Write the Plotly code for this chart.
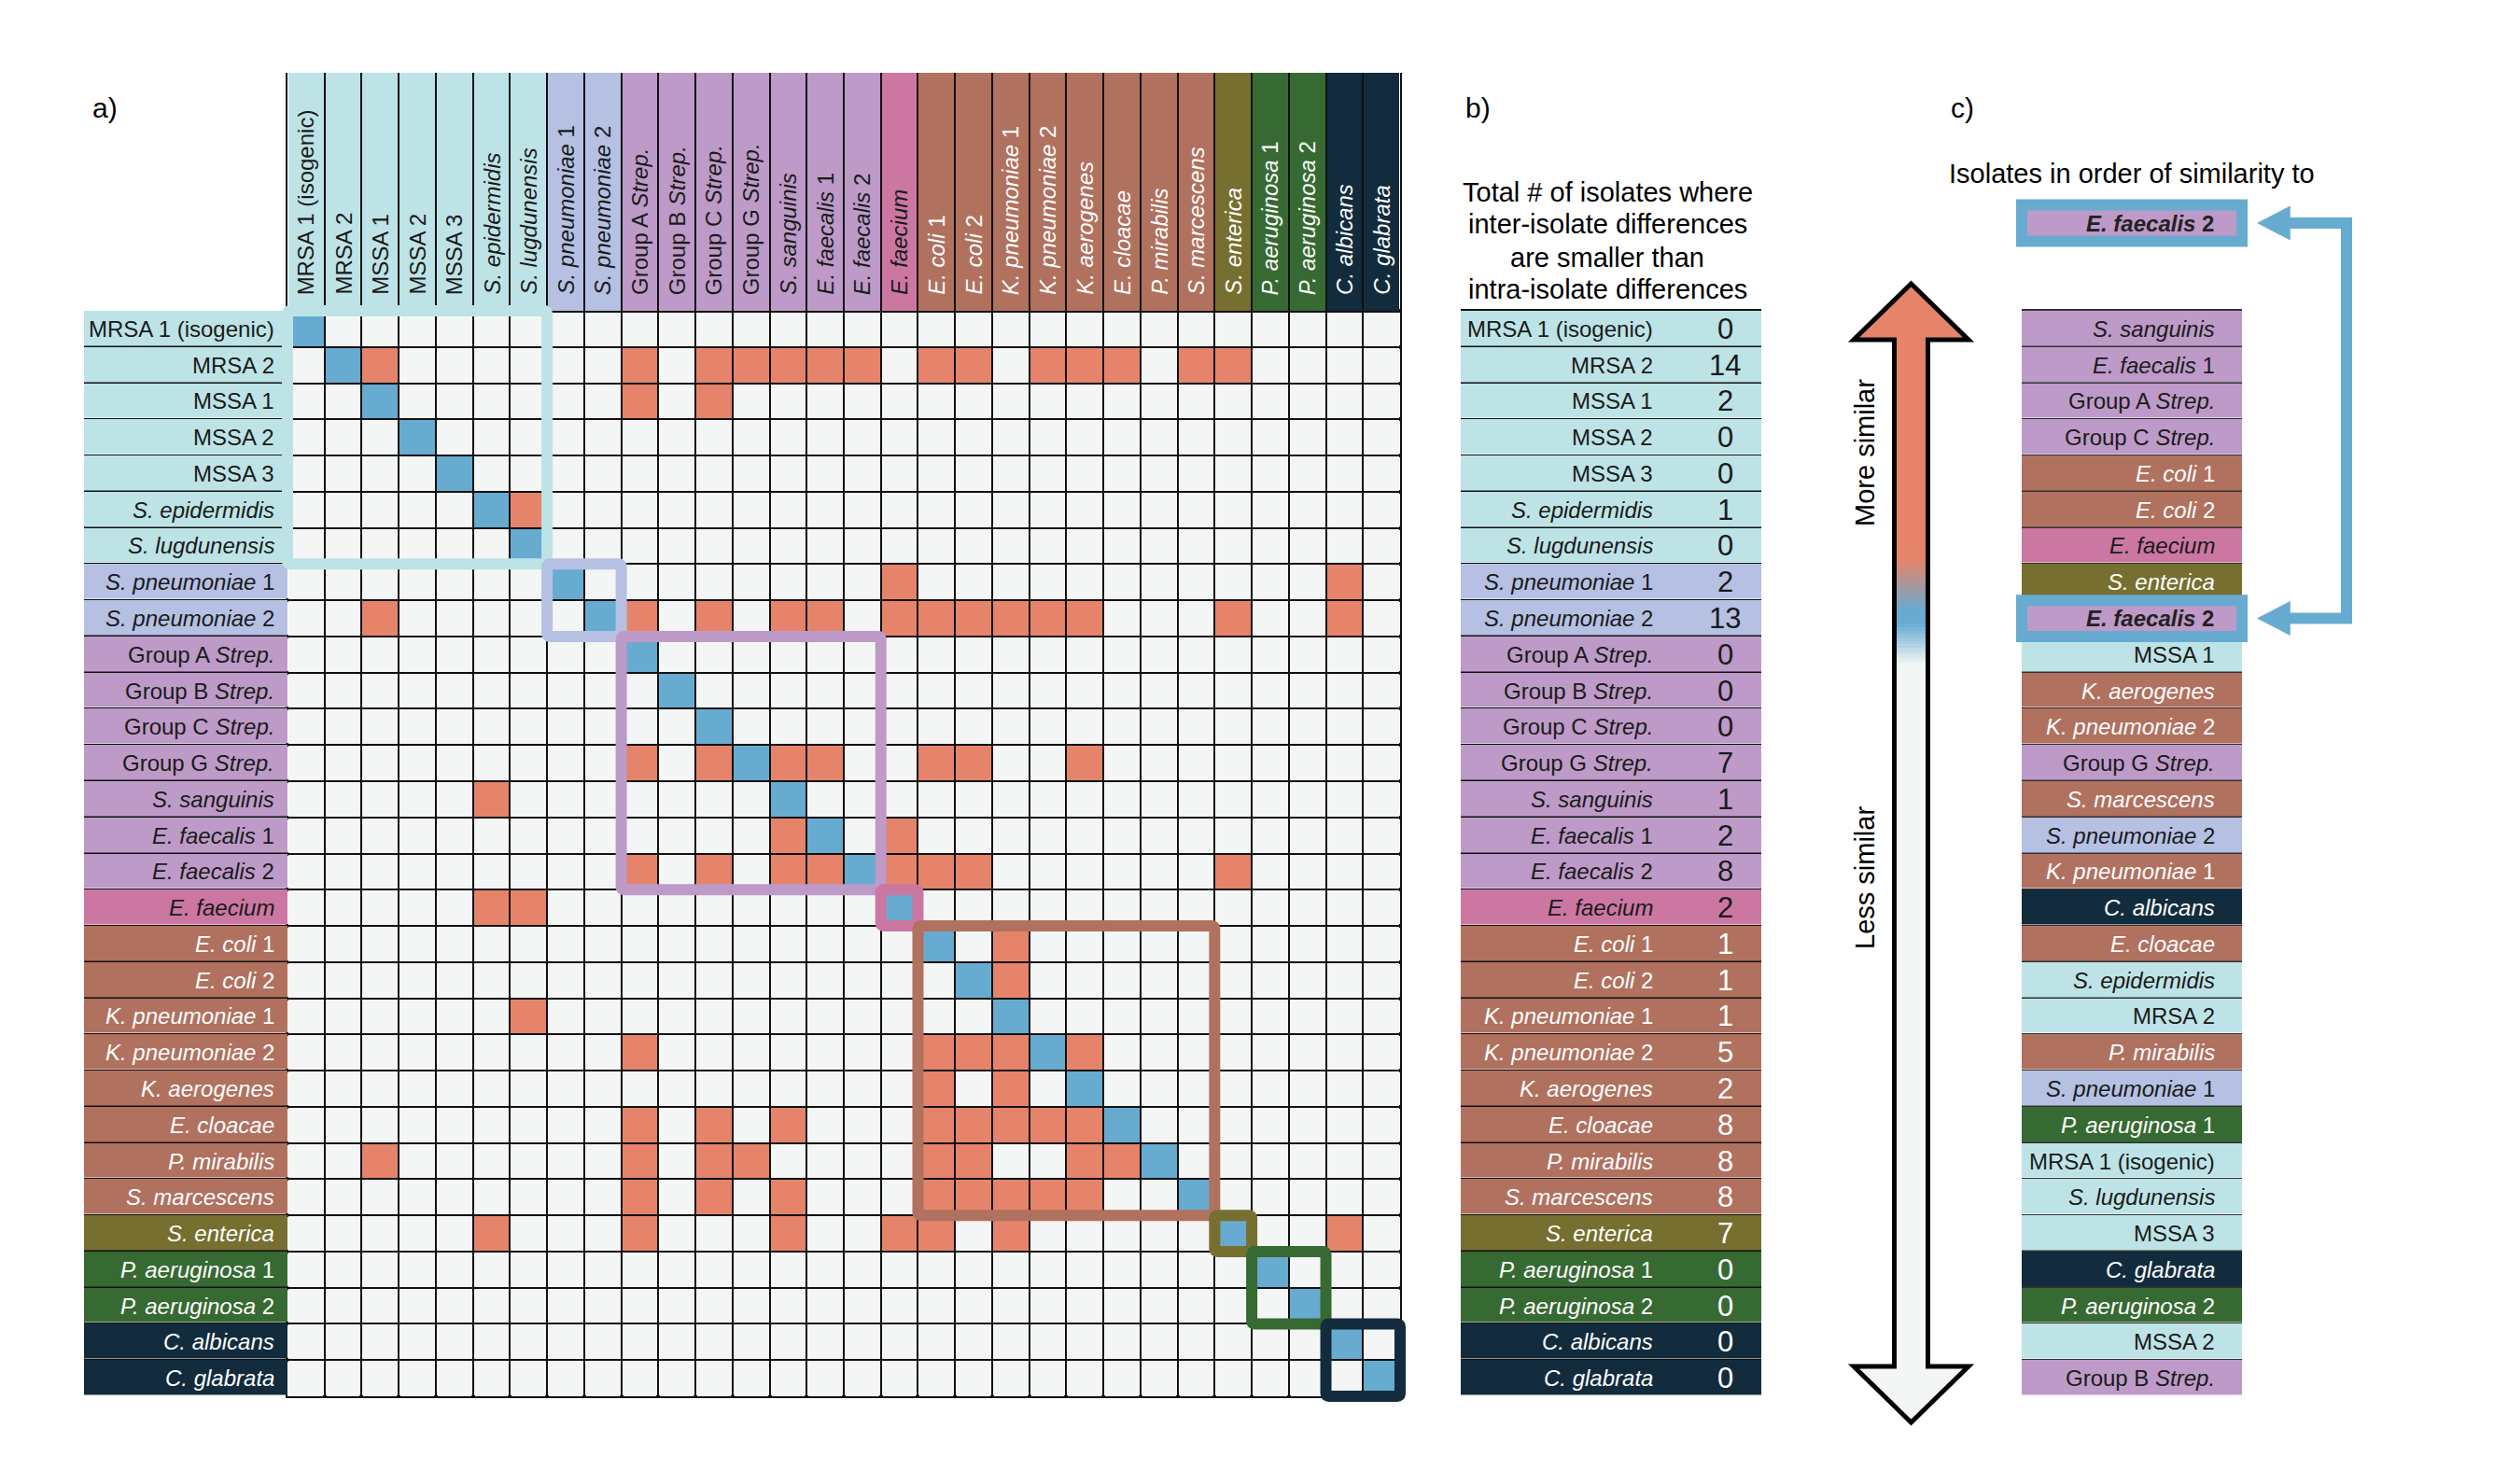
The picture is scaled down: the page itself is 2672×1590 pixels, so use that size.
import numpy as np
import plotly.graph_objects as go

W, H = 2672, 1590

# ---------------- data ----------------
isolates = [
    "MRSA 1 (isogenic)", "MRSA 2", "MSSA 1", "MSSA 2", "MSSA 3",
    "S. epidermidis", "S. lugdunensis", "S. pneumoniae 1", "S. pneumoniae 2",
    "Group A Strep.", "Group B Strep.", "Group C Strep.", "Group G Strep.",
    "S. sanguinis", "E. faecalis 1", "E. faecalis 2", "E. faecium",
    "E. coli 1", "E. coli 2", "K. pneumoniae 1", "K. pneumoniae 2",
    "K. aerogenes", "E. cloacae", "P. mirabilis", "S. marcescens",
    "S. enterica", "P. aeruginosa 1", "P. aeruginosa 2",
    "C. albicans", "C. glabrata",
]
isolate_labels = [
    "MRSA 1 (isogenic)", "MRSA 2", "MSSA 1", "MSSA 2", "MSSA 3",
    "<i>S. epidermidis</i>", "<i>S. lugdunensis</i>",
    "<i>S. pneumoniae</i> 1", "<i>S. pneumoniae</i> 2",
    "Group A <i>Strep.</i>", "Group B <i>Strep.</i>",
    "Group C <i>Strep.</i>", "Group G <i>Strep.</i>",
    "<i>S. sanguinis</i>", "<i>E. faecalis</i> 1", "<i>E. faecalis</i> 2",
    "<i>E. faecium</i>", "<i>E. coli</i> 1", "<i>E. coli</i> 2",
    "<i>K. pneumoniae</i> 1", "<i>K. pneumoniae</i> 2", "<i>K. aerogenes</i>",
    "<i>E. cloacae</i>", "<i>P. mirabilis</i>", "<i>S. marcescens</i>",
    "<i>S. enterica</i>", "<i>P. aeruginosa</i> 1", "<i>P. aeruginosa</i> 2",
    "<i>C. albicans</i>", "<i>C. glabrata</i>",
]
isolate_group = [0, 0, 0, 0, 0, 0, 0, 1, 1, 2, 2, 2, 2, 2, 2, 2, 3,
                 4, 4, 4, 4, 4, 4, 4, 4, 5, 6, 6, 7, 7]
group_colors = ["#BDE3E6", "#B5C0E3", "#BD9AC7", "#CB77A2",
                "#B1715F", "#766F2F", "#376A33", "#122C3D"]
group_text_colors = ["#1a1a1a", "#1a1a1a", "#1a1a1a", "#1a1a1a",
                     "#ffffff", "#ffffff", "#ffffff", "#ffffff"]

# columns (other isolates) whose inter-isolate difference is smaller than the row's intra-isolate difference
closer_than_self = [
    [],
    [2, 9, 11, 12, 13, 14, 15, 17, 18, 20, 21, 22, 24, 25],
    [9, 11],
    [],
    [],
    [6],
    [],
    [16, 28],
    [2, 9, 11, 13, 14, 16, 17, 18, 19, 20, 21, 25, 28],
    [],
    [],
    [],
    [9, 11, 13, 14, 17, 18, 21],
    [5],
    [13, 16],
    [9, 11, 13, 14, 16, 17, 18, 25],
    [5, 6],
    [19],
    [19],
    [6],
    [9, 17, 18, 19, 21],
    [17, 19],
    [9, 11, 13, 17, 18, 19, 20, 21],
    [2, 9, 11, 12, 17, 18, 21, 22],
    [9, 11, 13, 17, 18, 19, 20, 21],
    [5, 9, 13, 16, 17, 19, 28],
    [],
    [],
    [],
    [],
]
total_counts = [0, 14, 2, 0, 0, 1, 0, 2, 13, 0, 0, 0, 7, 1, 2, 8, 2,
                1, 1, 1, 5, 2, 8, 8, 8, 7, 0, 0, 0, 0]

similarity_order = [
    "S. sanguinis", "E. faecalis 1", "Group A Strep.", "Group C Strep.",
    "E. coli 1", "E. coli 2", "E. faecium", "S. enterica", "E. faecalis 2",
    "MSSA 1", "K. aerogenes", "K. pneumoniae 2", "Group G Strep.",
    "S. marcescens", "S. pneumoniae 2", "K. pneumoniae 1", "C. albicans",
    "E. cloacae", "S. epidermidis", "MRSA 2", "P. mirabilis",
    "S. pneumoniae 1", "P. aeruginosa 1", "MRSA 1 (isogenic)",
    "S. lugdunensis", "MSSA 3", "C. glabrata", "P. aeruginosa 2",
    "MSSA 2", "Group B Strep.",
]
reference_isolate = "E. faecalis 2"

# ---------------- styling / geometry ----------------
EMPTY = "#F4F6F5"
ORANGE = "#E5846A"
BLUE = "#67ABD1"
GRID = "#111111"
DARK = "#1a1a1a"
FONT = "Liberation Sans, Arial, Helvetica, sans-serif"

n = len(isolates)
MX0, MX1, MY0, MY1 = 308, 1500, 333, 1496   # matrix area (px)
LX0 = 90                                      # row label column left
HY0 = 78                                      # header top
BX0, BX1 = 1565, 1887                         # panel b table
CX0, CX1 = 2166, 2402                         # panel c list
C7X0, C7X1 = 2140, 2545                       # panel c overlay
AX0, AX1, AY0, AY1 = 1986, 2109, 304, 1524    # similarity arrow
cw = (MX1 - MX0) / n
ch = (MY1 - MY0) / n
PAD = 12


def xdom(a, b):
    return [a / W, b / W]


def ydom(top, bottom):
    return [1 - bottom / H, 1 - top / H]


def axis(domain, rng, **kw):
    d = dict(domain=domain, range=rng, showgrid=False, zeroline=False,
             showticklabels=False, ticks="", showline=False, fixedrange=True)
    d.update(kw)
    return d


k = len(group_colors)
group_scale = []
for i, c in enumerate(group_colors):
    group_scale += [[i / k, c], [(i + 1) / k, c]]
gz = dict(zmin=-0.5, zmax=k - 0.5, colorscale=group_scale, showscale=False, hoverinfo="skip")

# ---------------- traces ----------------
traces = []
z = [[2 if i == j else (1 if j in closer_than_self[i] else 0) for j in range(n)] for i in range(n)]
traces.append(go.Heatmap(
    z=z, x=list(range(n)), y=list(range(n)), zmin=-0.5, zmax=2.5,
    colorscale=[[0, EMPTY], [1 / 3, EMPTY], [1 / 3, ORANGE], [2 / 3, ORANGE], [2 / 3, BLUE], [1, BLUE]],
    showscale=False, xgap=2, ygap=2, hoverinfo="skip", xaxis="x", yaxis="y"))
traces.append(go.Heatmap(z=[[g] for g in isolate_group], x=[0], y=list(range(n)), ygap=1.5,
                         xaxis="x2", yaxis="y2", **gz))
traces.append(go.Heatmap(z=[isolate_group], x=list(range(n)), y=[0], xgap=2,
                         xaxis="x3", yaxis="y3", **gz))
traces.append(go.Heatmap(z=[[g] for g in isolate_group], x=[0, 1], y=list(range(n)), ygap=1.5,
                         xaxis="x4", yaxis="y4", **gz))
c_groups = [isolate_group[isolates.index(s)] for s in similarity_order]
traces.append(go.Heatmap(z=[[g] for g in c_groups], x=[0, 1], y=list(range(n)), ygap=1.5,
                         xaxis="x5", yaxis="y5", **gz))

# similarity arrow shaft (decorative gradient)
hh = 60 / (AY1 - AY0)
sw = 18 / ((AX1 - AX0) / 2)
edges = np.linspace(hh, 1 - hh, 301)
centers = (edges[:-1] + edges[1:]) / 2
arrow_scale = [[0, EMPTY], [0.6656, EMPTY], [0.7016, BLUE], [0.7123, BLUE], [0.7574, ORANGE], [1, ORANGE]]
traces.append(go.Heatmap(z=[[c] for c in centers], x=[-sw, sw], y=edges, zmin=0, zmax=1,
                         colorscale=arrow_scale, showscale=False, hoverinfo="skip",
                         xaxis="x6", yaxis="y6"))
for xa, ya in (("x7", "y7"), ("x8", "y8")):
    traces.append(go.Scatter(x=[None], y=[None], mode="markers", hoverinfo="skip",
                             showlegend=False, xaxis=xa, yaxis=ya))

fig = go.Figure(data=traces)

bounds = [b + 0.5 for b in range(n - 1)]
grid_m = dict(showgrid=True, gridcolor=GRID, gridwidth=4, tickmode="array", tickvals=bounds)
line_m = dict(showline=True, linecolor=GRID, linewidth=2, mirror=True)
hdr_h = MY0 - HY0
ax6_px = (AX1 - AX0) / 2
ay6_px = AY1 - AY0
lw = CX1 - CX0

fig.update_layout(
    width=W, height=H, margin=dict(l=0, r=0, t=0, b=0),
    paper_bgcolor="white", plot_bgcolor="rgba(0,0,0,0)", showlegend=False,
    xaxis=axis(xdom(MX0, MX1), [-0.5, n - 0.5], anchor="y", **grid_m, **line_m),
    yaxis=axis(ydom(MY0, MY1), [n - 0.5, -0.5], anchor="x", **grid_m, **line_m),
    xaxis2=axis(xdom(LX0, MX0), [-0.5, 0.5], anchor="y2"),
    yaxis2=axis(ydom(MY0, MY1), [n - 0.5, -0.5], anchor="x2", showgrid=True, gridcolor=GRID,
                gridwidth=3, tickmode="array", tickvals=bounds),
    xaxis3=axis(xdom(MX0, MX1), [-0.5, n - 0.5], anchor="y3", **grid_m,
                showline=True, linecolor=GRID, linewidth=2),
    yaxis3=axis(ydom(HY0, MY0), [-0.5, 0.5], anchor="x3", showline=True, mirror=True,
                linecolor=GRID, linewidth=2),
    xaxis4=axis(xdom(BX0, BX1), [0, 1], anchor="y4", side="top", showline=True,
                linecolor=GRID, linewidth=2),
    yaxis4=axis(ydom(MY0, MY1), [n - 0.5, -0.5], anchor="x4", showgrid=True, gridcolor=GRID,
                gridwidth=3, tickmode="array", tickvals=bounds),
    xaxis5=axis(xdom(CX0, CX1), [0, 1], anchor="y5", side="top", showline=True,
                linecolor="#333333", linewidth=2),
    yaxis5=axis(ydom(MY0, MY1), [n - 0.5, -0.5], anchor="x5", showgrid=True, gridcolor="#333333",
                gridwidth=3, tickmode="array", tickvals=bounds),
    xaxis6=axis(xdom(AX0 - 10, AX1 + 10), [-1 - 10 / ax6_px, 1 + 10 / ax6_px], anchor="y6"),
    yaxis6=axis(ydom(AY0 - 10, AY1 + 10), [-10 / ay6_px, 1 + 10 / ay6_px], anchor="x6"),
    xaxis7=axis(xdom(C7X0, C7X1), [(C7X0 - CX0) / lw, (C7X1 - CX0) / lw], anchor="y7"),
    yaxis7=axis(ydom(MY0 - 4 * ch, MY1), [n - 0.5, -4.5], anchor="x7"),
    xaxis8=axis(xdom(MX0 - PAD, MX1 + PAD), [-0.5 - PAD / cw, n - 0.5 + PAD / cw], anchor="y8"),
    yaxis8=axis(ydom(MY0 - PAD, MY1 + PAD), [n - 0.5 + PAD / ch, -0.5 - PAD / ch], anchor="x8"),
)

# ---------------- shapes ----------------
shapes = []


def rounded(x0, y0, x1, y1, r):
    return (f"M{x0 + r},{y0} L{x1 - r},{y0} Q{x1},{y0} {x1},{y0 + r} "
            f"L{x1},{y1 - r} Q{x1},{y1} {x1 - r},{y1} L{x0 + r},{y1} "
            f"Q{x0},{y1} {x0},{y1 - r} L{x0},{y0 + r} Q{x0},{y0} {x0 + r},{y0} Z")


for g, col in enumerate(group_colors):
    idx = [i for i, gg in enumerate(isolate_group) if gg == g]
    s, e = idx[0] - 0.5, idx[-1] + 0.5
    shapes.append(dict(type="path", path=rounded(s, s, e, e, 0.08), xref="x8", yref="y8",
                       line=dict(color=col, width=12), fillcolor="rgba(0,0,0,0)", layer="above"))

# panel c: reference box, highlighted row and bracket
ref_color = group_colors[isolate_group[isolates.index(reference_isolate)]]
top_row = (239 - MY0) / ch - 0.5
hi_row = similarity_order.index(reference_isolate)
for r in (top_row, hi_row):
    shapes.append(dict(type="rect", x0=0, x1=1, y0=r - 0.5, y1=r + 0.5, xref="x7", yref="y7",
                       line=dict(color=BLUE, width=12), fillcolor=ref_color, layer="above"))
tip_x = (2418 - CX0) / lw
base_x = (2449 - CX0) / lw
bar_x = (2514 - CX0) / lw
head_h = 18.5 / ch
shapes.append(dict(type="path", xref="x7", yref="y7", layer="above",
                   path=f"M{base_x},{top_row} L{bar_x},{top_row} L{bar_x},{hi_row} L{base_x},{hi_row}",
                   line=dict(color=BLUE, width=12), fillcolor="rgba(0,0,0,0)"))
for r in (top_row, hi_row):
    shapes.append(dict(type="path", xref="x7", yref="y7", layer="above",
                       path=f"M{tip_x},{r} L{base_x + 0.02},{r - head_h} L{base_x + 0.02},{r + head_h} Z",
                       line=dict(width=0), fillcolor=BLUE))

# similarity arrow
outline = (f"M0,1 L1,{1 - hh} L{sw},{1 - hh} L{sw},{hh} L1,{hh} L0,0 L-1,{hh} "
           f"L-{sw},{hh} L-{sw},{1 - hh} L-1,{1 - hh} Z")
shapes.append(dict(type="path", path=outline, xref="x6", yref="y6", layer="below",
                   line=dict(width=0), fillcolor=EMPTY))
shapes.append(dict(type="path", path=f"M0,1 L1,{1 - hh} L-1,{1 - hh} Z", xref="x6", yref="y6",
                   layer="below", line=dict(width=0), fillcolor=ORANGE))
shapes.append(dict(type="path", path=outline, xref="x6", yref="y6", layer="above",
                   line=dict(color="#000000", width=5), fillcolor="rgba(0,0,0,0)"))
fig.update_layout(shapes=shapes)

# ---------------- annotations ----------------
ann = []


def A(text, x, y, xref, yref, size=24, color=DARK, **kw):
    ann.append(dict(text=text, x=x, y=y, xref=xref, yref=yref, showarrow=False,
                    font=dict(family=FONT, size=size, color=color), **kw))


lab_x = 0.5 - 12 / (MX0 - LX0)
for i in range(n):
    tc = group_text_colors[isolate_group[i]]
    A(isolate_labels[i], lab_x, i, "x2", "y2", color=tc, xanchor="right", yanchor="middle")
    A(isolate_labels[i], i, -0.5 + 15 / hdr_h, "x3", "y3", color=tc, textangle=-90,
      xanchor="center", yanchor="bottom")
    A(isolate_labels[i], (1773 - BX0) / (BX1 - BX0), i, "x4", "y4", color=tc,
      xanchor="right", yanchor="middle")
    A(str(total_counts[i]), (1848 - BX0) / (BX1 - BX0), i, "x4", "y4", size=31, color=tc,
      xanchor="center", yanchor="middle")

c_lab_x = (2375 - CX0) / lw
for r, name in enumerate(similarity_order):
    if name == reference_isolate:
        continue
    g = isolate_group[isolates.index(name)]
    A(isolate_labels[isolates.index(name)], c_lab_x, r, "x5", "y5",
      color=group_text_colors[g], xanchor="right", yanchor="middle")
ref_label = "<b>" + isolate_labels[isolates.index(reference_isolate)] + "</b>"
for r in (top_row, hi_row):
    A(ref_label, (2374 - CX0) / lw, r, "x7", "y7", color="#222222", xanchor="right", yanchor="middle")

# panel letters & titles
for txt, px in (("a)", 97), ("b)", 1568), ("c)", 2088)):
    A(txt, px / W, 1 - 116 / H, "paper", "paper", size=30, color="#000000",
      xanchor="left", yanchor="middle")
for line, py in (("Total # of isolates where", 206), ("inter-isolate differences", 240),
                 ("are smaller than", 276), ("intra-isolate differences", 310)):
    A(line, 1722 / W, 1 - py / H, "paper", "paper", size=29, color="#000000",
      xanchor="center", yanchor="middle")
A("Isolates in order of similarity to", 2284 / W, 1 - 186 / H, "paper", "paper", size=29,
  color="#000000", xanchor="center", yanchor="middle")

# arrow captions
cap_x = (1998 - (AX0 + AX1) / 2) / ax6_px
A("More similar", cap_x, (AY1 - 485) / ay6_px, "x6", "y6", size=29, color="#000000",
  textangle=-90, xanchor="center", yanchor="middle")
A("Less similar", cap_x, (AY1 - 941) / ay6_px, "x6", "y6", size=29, color="#000000",
  textangle=-90, xanchor="center", yanchor="middle")

fig.update_layout(annotations=ann)

fig.write_html("out.html", config={"displayModeBar": False},
               post_script="document.body.style.margin='0';document.body.style.overflow='hidden';")
